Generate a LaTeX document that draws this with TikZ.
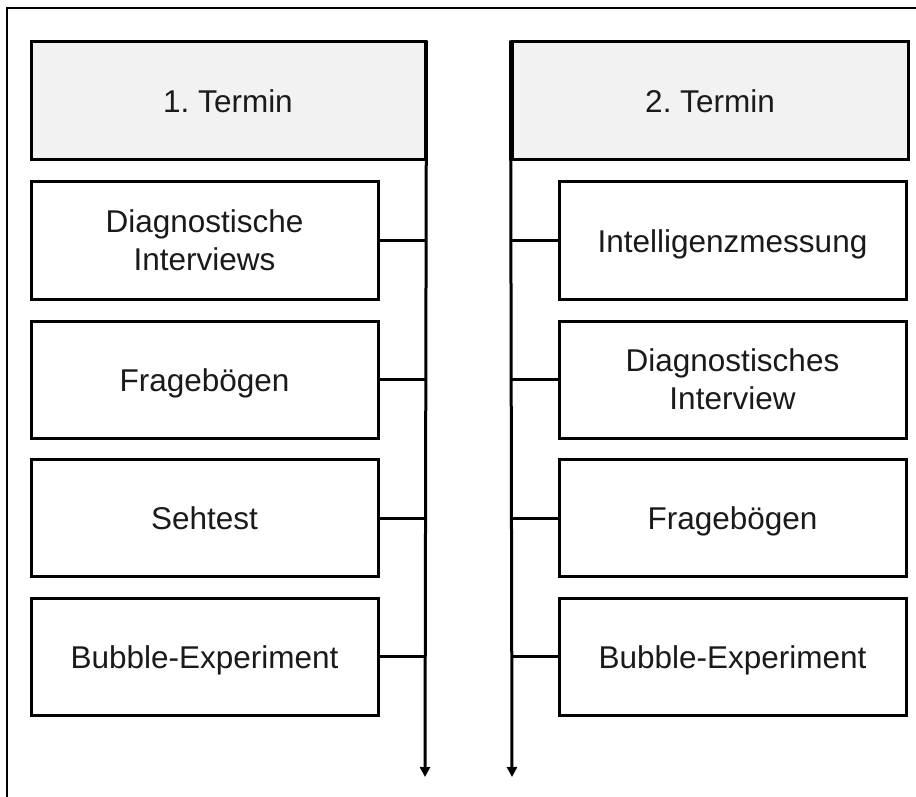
\documentclass[tikz,border=0pt]{standalone}
\usepackage{fontspec}
\setmainfont{Liberation Sans}
\usetikzlibrary{arrows.meta}
\definecolor{headfill}{HTML}{F2F2F2}
\definecolor{txt}{HTML}{1A1A1A}
\frenchspacing
\begin{document}
\begin{tikzpicture}[x=1pt,y=-1pt,
  base/.style={draw=black, line width=3pt, inner sep=0pt, align=center,
    text=txt, font=\fontsize{31.5}{38}\selectfont},
  oneline/.style={text height=23pt, text depth=0pt},
  headbox/.style={base, fill=headfill, minimum height=118pt},
  itembox/.style={base, fill=white, minimum width=347pt, minimum height=117pt},
  spine/.style={line width=3pt, -{Triangle[width=10pt,length=10pt]}},
  link/.style={line width=3pt}]
\useasboundingbox (0,0) rectangle (916,797);
\draw[line width=1.5pt] (7,797) -- (7,8) -- (916,8);

\node[headbox, oneline, minimum width=394pt] (h1) at (228,101) {1. Termin};
\node[headbox, oneline, minimum width=396pt] (h2) at (710,101) {2. Termin};

\node[itembox] (l1) at (204.5,240.5) {Diagnostische\\Interviews};
\node[itembox, oneline] (l2) at (204.5,379.5) {Fragebögen};
\node[itembox, oneline] (l3) at (204.5,518) {Sehtest};
\node[itembox, oneline] (l4) at (204.5,656.5) {Bubble-Experiment};

\node[itembox, oneline] (r1) at (732.5,240.5) {Intelligenzmessung};
\node[itembox] (r2) at (732.5,379.5) {Diagnostisches\\Interview};
\node[itembox, oneline] (r3) at (732.5,518) {Fragebögen};
\node[itembox, oneline] (r4) at (732.5,656.5) {Bubble-Experiment};

\coordinate (e1) at (425,777);
\coordinate (e2) at (512,777);
\draw[spine] (h1.north east) -- (e1);
\draw[spine] (h2.north west) -- (e2);

\foreach \i in {1,2,3,4}{
  \draw[link] (l\i.east) -- (l\i.east -| e1);
  \draw[link] (r\i.west) -- (r\i.west -| e2);
}
\end{tikzpicture}
\end{document}
